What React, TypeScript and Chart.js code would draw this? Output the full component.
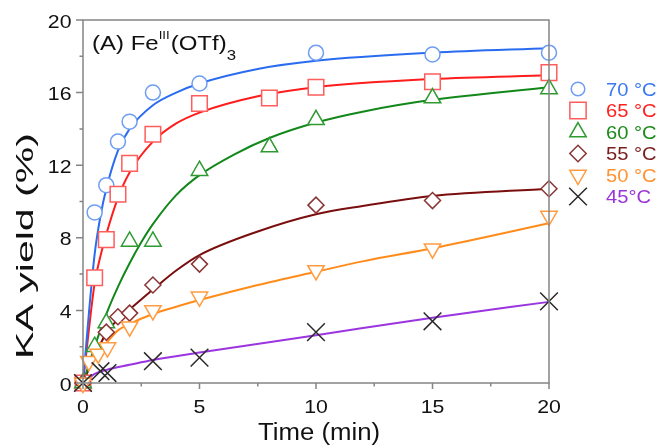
import React, { useEffect, useRef } from 'react';
import { Chart, registerables } from 'chart.js';
import { drawPoint } from 'chart.js/helpers';

Chart.register(...registerables);

const FONT = '"Liberation Sans", Arial, sans-serif';

// ---- measured data (Time in min, KA yield in %) ----
const labels = ['70 °C', '65 °C', '60 °C', '55 °C', '50 °C', '45°C'];

const t70 = [0, 0.5, 1, 1.5, 2, 3, 5, 10, 15, 20];
const y70 = [0, 9.4, 10.9, 13.3, 14.4, 16.0, 16.5, 18.2, 18.1, 18.2];
const t65 = [0, 0.5, 1, 1.5, 2, 3, 5, 8, 10, 15, 20];
const y65 = [0, 5.8, 7.9, 10.4, 12.1, 13.7, 15.4, 15.7, 16.3, 16.6, 17.1];
const t60 = [0, 0.5, 1, 2, 3, 5, 8, 10, 15, 20];
const y60 = [0, 2.0, 3.3, 7.8, 7.8, 11.7, 13.0, 14.5, 15.7, 16.2];
const t55 = [0, 1, 1.5, 2, 3, 5, 10, 15, 20];
const y55 = [0, 2.8, 3.65, 3.85, 5.4, 6.55, 9.8, 10.05, 10.7];
const t50 = [0, 0.25, 0.65, 1.05, 2, 3, 5, 10, 15, 20];
const y50 = [0, 1.2, 1.6, 1.95, 3.1, 4.0, 4.75, 6.2, 7.4, 9.2];
const t45 = [0, 0.75, 1.05, 3, 5, 10, 15, 20];
const y45 = [0, 0.65, 0.55, 1.2, 1.4, 2.8, 3.4, 4.5];

// fitted curves
const ct70 = [0, 0.25, 0.5, 0.75, 1, 1.5, 2, 3, 4, 5, 7.5, 10, 15, 20];
const cy70 = [0, 3.8, 7.1, 9.2, 10.7, 12.8, 14.0, 15.3, 16.0, 16.5, 17.3, 17.75, 18.2, 18.45];
const ct65 = [0, 0.25, 0.5, 0.75, 1, 1.5, 2, 3, 4, 5, 7.5, 10, 15, 20];
const cy65 = [0, 2.9, 5.5, 7.0, 8.2, 10.2, 11.6, 13.3, 14.3, 14.9, 15.8, 16.3, 16.75, 16.95];
const ct60 = [0, 0.5, 1, 1.5, 2, 2.5, 3, 4, 5, 6.5, 8, 10, 12, 15, 20];
const cy60 = [0, 2.0, 3.8, 5.3, 6.6, 7.75, 8.75, 10.35, 11.45, 12.6, 13.5, 14.35, 14.95, 15.6, 16.3];
const ct55 = [0, 0.5, 1, 1.5, 2, 3, 4, 5, 7.5, 10, 12, 15, 20];
const cy55 = [0, 1.5, 2.75, 3.5, 4.05, 5.15, 6.2, 7.05, 8.35, 9.3, 9.75, 10.3, 10.7];
const ct50 = [0, 0.33, 0.6, 1, 1.5, 2, 3, 4, 5, 7.5, 10, 12, 15, 20];
const cy50 = [0, 1.1, 1.65, 2.2, 2.9, 3.25, 3.8, 4.2, 4.57, 5.4, 6.13, 6.7, 7.42, 8.8];
const ct45 = [0, 0.5, 1, 2, 3, 5, 10, 15, 20];
const cy45 = [0, 0.5, 0.72, 1.0, 1.27, 1.68, 2.63, 3.6, 4.47];

const xTicksMajor = [0, 5, 10, 15, 20];
const yTicksMajor = [0, 4, 8, 12, 16, 20];

const markerT = [t70, t65, t60, t55, t50, t45];
const markerY = [y70, y65, y60, y55, y50, y45];
const curveT = [ct70, ct65, ct60, ct55, ct50, ct45];
const curveY = [cy70, cy65, cy60, cy55, cy50, cy45];

// ---- styles ----
const lineColors = ['#2a6cf0', '#ff1c1c', '#12881a', '#7a0e0e', '#ff8c1a', '#9b35e0'];
const markerColors = ['#6e9df2', '#ff5c5c', '#2e9a32', '#8a3434', '#ff9c42', '#2a2a2a'];
const textColors = ['#3a78f0', '#ff2020', '#1c8a1c', '#7a1c1c', '#ff9232', '#9a34d8'];
const pointStyles = ['circle', 'rect', 'triangle', 'rectRot', 'triangle', 'crossRot'];
const pointRadii = [7.5, 11, 9.5, 8, 9.5, 12.5];
const legendRadii = [6.8, 11.5, 9.5, 8.2, 9.5, 12.5];
const pointRotations = [0, 0, 0, 0, 180, 0];

const SX = 1.12; // horizontal stretch of the lettering in the reference

const pts = (xs: number[], ys: number[]) => xs.map((x, i) => ({ x, y: ys[i] }));

function stretchedText(ctx: any, s: string, x: number, y: number, align: string, sx: number) {
  ctx.save();
  ctx.translate(x, y);
  ctx.scale(sx, 1);
  ctx.textAlign = align;
  ctx.fillText(s, 0, 0);
  ctx.restore();
}

const decorPlugin = {
  id: 'decor',
  afterDraw(chart: any) {
    const { ctx, chartArea: a, scales } = chart;
    const xs = scales.x;
    const ys = scales.y;
    ctx.save();
    // box
    ctx.strokeStyle = '#858585';
    ctx.lineWidth = 1.5;
    ctx.strokeRect(a.left, a.top, a.right - a.left, a.bottom - a.top);
    // ticks
    ctx.beginPath();
    for (let v = 0; v <= 20.001; v += 2.5) {
      const px = xs.getPixelForValue(v);
      const len = Math.abs(v % 5) < 1e-6 ? 6 : 3.5;
      ctx.moveTo(px, a.bottom);
      ctx.lineTo(px, a.bottom + len);
    }
    for (let v = 0; v <= 20.001; v += 2) {
      const py = ys.getPixelForValue(v);
      const len = Math.abs(v % 4) < 1e-6 ? 7 : 3.5;
      ctx.moveTo(a.left, py);
      ctx.lineTo(a.left - len, py);
    }
    ctx.stroke();

    // tick labels
    ctx.fillStyle = '#111';
    ctx.textBaseline = 'alphabetic';
    ctx.font = `19px ${FONT}`;
    xTicksMajor.forEach((v) => {
      stretchedText(ctx, String(v), xs.getPixelForValue(v), 413, 'center', SX);
    });
    yTicksMajor.forEach((v) => {
      stretchedText(ctx, String(v), 71.5, ys.getPixelForValue(v) + 7.5, 'right', SX);
    });

    // axis titles
    ctx.font = `23px ${FONT}`;
    stretchedText(ctx, 'Time (min)', (a.left + a.right) / 2 + 3, 440, 'center', SX);

    ctx.save();
    ctx.translate(33, 246);
    ctx.rotate(-Math.PI / 2);
    ctx.font = `24px ${FONT}`;
    const yt = 'KA yield (%)';
    const w = ctx.measureText(yt).width;
    ctx.scale(226 / w, 1);
    ctx.textAlign = 'center';
    ctx.fillText(yt, 0, 0);
    ctx.restore();

    // panel label
    let x = 92;
    const base = 50;
    const parts: [string, number, number][] = [
      ['(A) Fe', 20, 0],
      ['III', 11, -11.5],
      ['(OTf)', 20, 0],
      ['3', 14, 10],
    ];
    const PSX = 1.2;
    for (const [s, size, dy] of parts) {
      ctx.font = `${size}px ${FONT}`;
      stretchedText(ctx, s, x, base + dy, 'left', PSX);
      x += ctx.measureText(s).width * PSX + (s === 'III' ? 1 : 0);
    }

    // legend
    const lx = 578;
    const ly0 = 89;
    const step = 21.5;
    ctx.font = `18px ${FONT}`;
    labels.forEach((lab, i) => {
      const yy = ly0 + i * step;
      ctx.fillStyle = '#ffffff';
      ctx.strokeStyle = markerColors[i];
      ctx.lineWidth = 1.5;
      drawPoint(ctx, {
        pointStyle: pointStyles[i],
        radius: legendRadii[i],
        rotation: pointRotations[i],
        borderWidth: 1.5,
      } as any, lx, yy);
      ctx.fillStyle = textColors[i];
      stretchedText(ctx, lab, 606, yy + 6.5, 'left', SX);
    });
    ctx.restore();
  },
};

export default function App() {
  const ref = useRef<HTMLCanvasElement | null>(null);
  useEffect(() => {
    if (!ref.current) return;
    const datasets: any[] = [];
    for (let i = 0; i < 6; i++) {
      datasets.push({
        label: labels[i] + ' fit',
        data: pts(curveT[i], curveY[i]),
        showLine: true,
        borderColor: lineColors[i],
        borderWidth: 2,
        pointRadius: 0,
        cubicInterpolationMode: 'monotone',
        fill: false,
        clip: false,
        order: 10 + i,
      });
    }
    for (let i = 0; i < 6; i++) {
      datasets.push({
        label: labels[i],
        data: pts(markerT[i], markerY[i]),
        showLine: false,
        pointStyle: pointStyles[i],
        pointRadius: pointRadii[i],
        pointRotation: pointRotations[i],
        pointBorderColor: markerColors[i],
        pointBackgroundColor: i === 5 ? markerColors[i] : '#ffffff',
        pointBorderWidth: 1.5,
        clip: false,
        order: 5 - i,
      });
    }
    const chart = new Chart(ref.current, {
      type: 'scatter',
      data: { datasets },
      options: {
        responsive: false,
        animation: false,
        layout: { padding: { left: 0, right: 111, top: 20, bottom: 0 } },
        plugins: { legend: { display: false }, tooltip: { enabled: false } },
        scales: {
          x: {
            type: 'linear',
            min: 0,
            max: 20,
            afterBuildTicks: (s: any) => {
              s.ticks = xTicksMajor.map((v) => ({ value: v }));
            },
            afterFit: (s: any) => {
              s.height = 63;
            },
            ticks: { display: false },
            grid: { display: false, drawTicks: false },
            border: { display: false },
          },
          y: {
            type: 'linear',
            min: 0,
            max: 20,
            afterBuildTicks: (s: any) => {
              s.ticks = yTicksMajor.map((v) => ({ value: v }));
            },
            afterFit: (s: any) => {
              s.width = 83;
            },
            ticks: { display: false },
            grid: { display: false, drawTicks: false },
            border: { display: false },
          },
        },
      },
      plugins: [decorPlugin],
    });
    return () => chart.destroy();
  }, []);
  return (
    <div style={{ position: 'fixed', left: 0, top: 0, width: 660, height: 446, background: '#fff' }}>
      <canvas ref={ref} width={660} height={446} style={{ width: 660, height: 446, display: 'block' }} />
    </div>
  );
}
